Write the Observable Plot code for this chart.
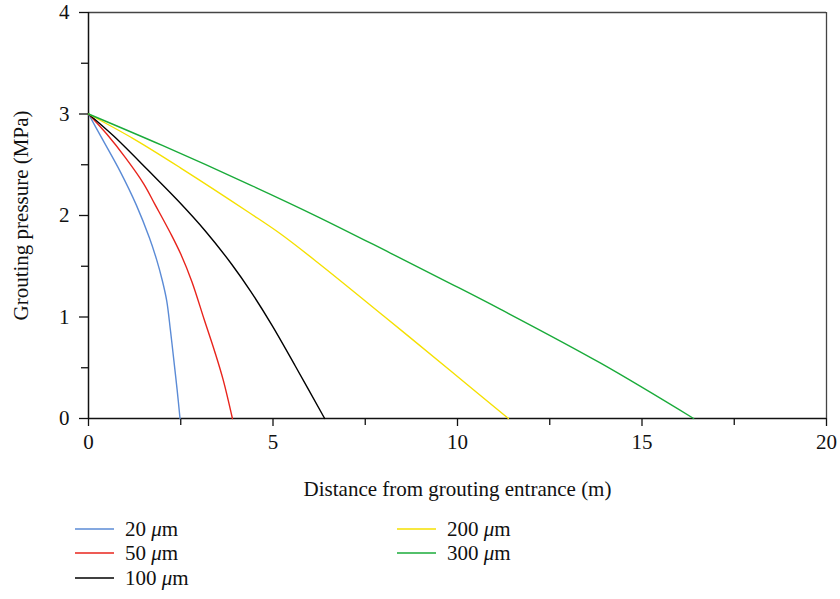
<!DOCTYPE html>
<html><head><meta charset="utf-8">
<script src="https://cdn.jsdelivr.net/npm/d3@7"></script>
<script src="https://cdn.jsdelivr.net/npm/@observablehq/plot@0.6"></script>
<style>
body{margin:0;background:#fff;font-family:"Liberation Serif","DejaVu Serif",serif;}
#wrap{position:relative;width:840px;height:599px;overflow:hidden;}
.leg{position:absolute;display:flex;align-items:center;font-size:21px;height:24px;line-height:24px;color:#111;}
.leg svg{margin-right:11px;}
</style></head><body><div id="wrap"></div>
<script>
// Series labels and colours
const seriesNames = ["20 μm", "50 μm", "100 μm", "200 μm", "300 μm"];
const seriesColors = ["#5b8bd6", "#e8241c", "#000000", "#f5e000", "#1aab3a"];

// Distance (m) and pressure (MPa)
const x20 = [0, 0.35, 0.85, 1.30, 1.65, 1.85, 2.0, 2.12, 2.22, 2.32, 2.40, 2.48];
const y20 = [3, 2.77, 2.44, 2.10, 1.78, 1.56, 1.36, 1.16, 0.87, 0.55, 0.29, 0];
const x50 = [0, 0.5, 1.0, 1.5, 1.8, 2.23, 2.5, 2.8, 3.14, 3.42, 3.65, 3.90];
const y50 = [3, 2.80, 2.57, 2.31, 2.11, 1.82, 1.62, 1.35, 0.97, 0.66, 0.38, 0];
const x100 = [0, 0.69, 1.63, 2.44, 3.16, 3.88, 4.40, 4.97, 5.60, 6.40];
const y100 = [3, 2.78, 2.44, 2.14, 1.85, 1.52, 1.25, 0.92, 0.52, 0];
const x200 = [0, 1.2, 2.49, 4.39, 5.20, 6.20, 8.00, 9.81, 11.38];
const y200 = [3, 2.76, 2.47, 2.02, 1.82, 1.54, 1.01, 0.47, 0];
const x300 = [0, 2.0, 4.39, 6.20, 8.18, 9.81, 11.17, 13.88, 16.40];
const y300 = [3, 2.69, 2.30, 1.99, 1.63, 1.33, 1.075, 0.545, 0];

// Ticks
const xMajor = [0, 5, 10, 15, 20];
const xMinor = [2.5, 7.5, 12.5, 17.5];
const yMajor = [0, 1, 2, 3, 4];
const yMinor = [0.5, 1.5, 2.5, 3.5];

const xs = [x20, x50, x100, x200, x300];
const ys = [y20, y50, y100, y200, y300];
const data = [];
xs.forEach((xa, i) => xa.forEach((x, j) => data.push({series: seriesNames[i], x, y: ys[i][j]})));

const chart = Plot.plot({
  width: 840, height: 505,
  marginLeft: 88, marginRight: 14, marginTop: 12, marginBottom: 87,
  style: {fontFamily: "Liberation Serif, serif", fontSize: "21px", color: "#111", background: "#fff", overflow: "visible"},
  x: {domain: [0, 20]},
  y: {domain: [0, 4]},
  color: {domain: seriesNames, range: seriesColors},
  marks: [
    Plot.ruleY([4], {stroke: "#444", strokeWidth: 1.3}),
    Plot.ruleX([20], {stroke: "#444", strokeWidth: 1.3}),
    Plot.axisX({ticks: xMajor, tickSize: 8, tickPadding: 8, strokeWidth: 1.3, stroke: "#111", tickFormat: d => String(d),
      label: "Distance from grouting entrance (m)", labelAnchor: "center", labelArrow: "none", labelOffset: 77}),
    Plot.axisX({ticks: xMinor, tickSize: 7, tickFormat: () => "", strokeWidth: 1.3, stroke: "#111", label: null}),
    Plot.axisY({ticks: yMajor, tickSize: 9, tickPadding: 10, strokeWidth: 1.3, stroke: "#111", tickFormat: d => String(d),
      label: "Grouting pressure (MPa)", labelAnchor: "center", labelArrow: "none", labelOffset: 75}),
    Plot.axisY({ticks: yMinor, tickSize: 7, tickFormat: () => "", strokeWidth: 1.3, stroke: "#111", label: null}),
    Plot.ruleX([0], {stroke: "#111", strokeWidth: 1.5}),
    Plot.ruleY([0], {stroke: "#111", strokeWidth: 1.5}),
    Plot.line(data, {x: "x", y: "y", z: "series", stroke: "series", strokeWidth: 1.4, curve: "catmull-rom"})
  ]
});
const wrap = document.getElementById("wrap");
wrap.appendChild(chart);

// Legend (two columns)
const legPos = [[75, 529], [75, 553], [75, 578], [397, 529], [397, 553]];
seriesNames.forEach((name, i) => {
  const d = document.createElement("div");
  d.className = "leg";
  d.style.left = legPos[i][0] + "px";
  d.style.top = (legPos[i][1] - 12) + "px";
  const parts = name.split("μ");
  d.innerHTML = `<svg width="39" height="24"><line x1="0" x2="39" y1="12" y2="12" stroke="${seriesColors[i]}" stroke-width="1.6"/></svg><span>${parts[0]}<i>μ</i>${parts[1]}</span>`;
  wrap.appendChild(d);
});
</script>
</body></html>
